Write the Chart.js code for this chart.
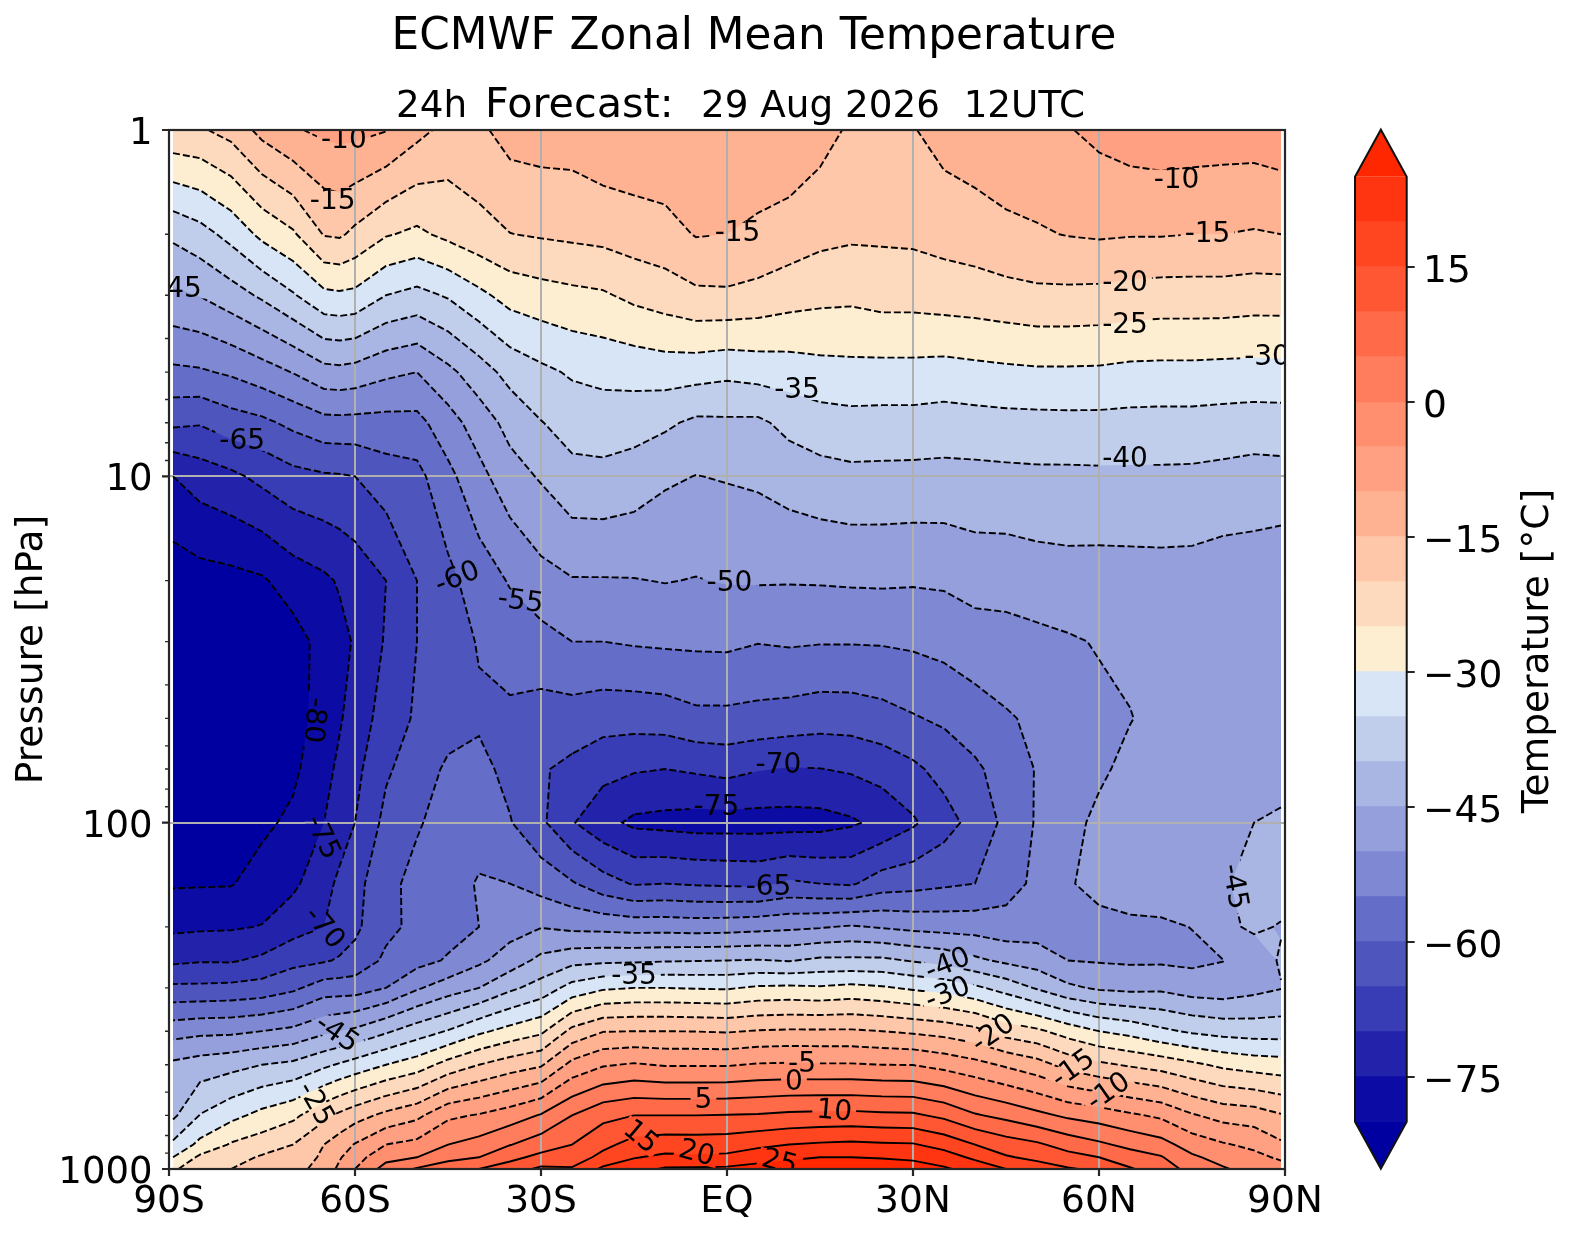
<!DOCTYPE html>
<html>
<head>
<meta charset="utf-8">
<script src="https://cdn.jsdelivr.net/npm/chart.js@4"></script>
<style>
  body { margin: 0; background: #fff; }
  canvas { position: absolute; top: 0; }
</style>
</head>
<body>
<canvas id="zonal" width="1572" height="1235" style="left:0"></canvas>
<canvas id="bar" width="272" height="1235" style="left:1300px"></canvas>
<script>
// grid, pressure levels in hPa
const pressures = [1,2,3,5,7,10,20,30,50,70,100,150,200,250,300,400,500,700,850,925,1000];
const lats = [-89.35,-85,-80,-75,-70,-65,-62.5,-60,-55,-50,-45,-40,-35,-30,-25,-20,-15,-10,-5,0,5,10,15,20,25,30,35,40,45,50,55,60,65,70,75,80,85,89.35];

// temperature per latitude, one value for each pressure level
const tS89 = [-21,-39,-46,-56,-64,-75,-83,-84,-85,-85,-84,-80.5,-76,-71,-64,-52,-44,-41,-34,-30,-26];
const tS85 = [-20.6,-36.9,-44.8,-55.6,-64.6,-72.7,-82,-84,-85,-85,-84,-80.4,-75.7,-70.4,-64,-51.2,-42.7,-34.8,-28.7,-24,-21];
const tS80 = [-18.3,-33.4,-42.2,-54.3,-62.3,-71.1,-81.5,-83,-84,-84,-83,-80.3,-75.5,-70.5,-63.7,-51,-41.6,-31.5,-24.5,-22,-20];
const tS75 = [-13.5,-28.8,-39.2,-52.2,-61.1,-68.7,-80.6,-83,-84,-84,-81,-78,-74.8,-69,-63,-50,-40,-28.5,-22.5,-19.4,-18];
const tS70 = [-10.5,-25.7,-35.5,-49.8,-58.8,-66.5,-77.7,-82,-82,-81,-79,-76,-72,-66.5,-61,-48.8,-38.9,-26.2,-20,-18.5,-17];
const tS65 = [-9,-19.7,-31.2,-46.7,-56.6,-65.6,-75.9,-78.3,-78,-76.6,-75,-71.7,-70,-65.5,-57.5,-46,-36,-21.3,-15,-14,-12.8];
const tS62 = [-8.5,-19.3,-30.8,-46.4,-56.5,-65.4,-74.5,-76.5,-75.5,-74,-72.5,-69,-68,-64.5,-57.4,-45,-34.5,-19,-12.5,-10.5,-9];
const tS60 = [-8.6,-21.1,-31.2,-46.9,-56.6,-65,-73,-74.5,-73,-71.4,-70,-66.7,-66,-63.4,-57.3,-44,-33,-17,-9.7,-7,-5];
const tS55 = [-9.8,-24.6,-35,-48.9,-56.7,-62.4,-70,-69.5,-67.7,-65.7,-63.6,-61.4,-61.3,-59,-55,-40.7,-30,-13.7,-5,-1.6,2];
const tS50 = [-13.5,-26,-36.5,-50,-56.5,-61.5,-65,-65,-64.3,-62.5,-60.5,-58.5,-58.7,-56.7,-50.6,-37.5,-27.5,-11.2,-3.6,0,5.5];
const tS45 = [-16.5,-23.8,-34.5,-46.2,-52.1,-56.3,-61.3,-62.6,-62,-59.2,-58,-56.5,-56.9,-54.5,-47.4,-34.7,-23.2,-6,0,3.6,7.7];
const tS40 = [-16,-21.7,-31.2,-42.3,-47.6,-51.5,-57.5,-59.6,-60.8,-58.5,-56.5,-54.7,-55,-51,-45,-31,-20,-4.6,1.8,5,10];
const tS35 = [-13,-20.1,-28.1,-38.3,-43.4,-47,-54.6,-57.7,-61,-61.5,-59.7,-55,-52,-47.6,-41,-28.3,-17.5,-2.5,4.8,8.6,12.5];
const tS30 = [-12.5,-19.5,-27,-36.1,-40.2,-44.5,-51.7,-56.8,-62,-64.5,-64,-57,-50.2,-43.7,-38,-26,-15.6,0.4,7.6,11.4,16];
const tS25 = [-12.5,-19,-26.2,-34.4,-38,-41.5,-50.3,-55,-62.2,-66.2,-69.6,-59.5,-51.2,-41.5,-33.2,-18.6,-8.5,5,10,12.4,15.5];
const tS20 = [-11,-18.5,-25.6,-33.6,-37.6,-41.3,-50.3,-55,-63,-68.4,-73.4,-63,-51.5,-41,-30.7,-15.2,-5.5,8.6,13.7,16.4,21];
const tS15 = [-10.8,-17.5,-23.8,-33.2,-38,-42.3,-50.2,-54.5,-63,-69.5,-76,-65.4,-52,-40.8,-30,-15,-4.5,10,16.8,19.7,23];
const tS10 = [-10.5,-16.8,-22.5,-32.7,-39.1,-44.25,-49.8,-54.2,-62.6,-70,-76.5,-65,-52,-40.4,-30,-15,-5.4,10,17.6,21,25.6];
const tS05 = [-10.5,-14.7,-21,-33,-41,-45.1,-50.2,-54.1,-61.2,-69.3,-77,-65.5,-52.3,-40.2,-30.3,-15.1,-5.4,10,17.5,20.8,25.7];
const tEQ = [-11,-15,-20.8,-33.8,-40.8,-44.66,-49.7,-54,-61.2,-68.5,-77,-65.8,-52.1,-40,-30.5,-15.4,-5.4,10.2,17.7,21,26];
const tN05 = [-11.5,-15.9,-21.6,-33.1,-40.9,-44.16,-49.6,-54.8,-61.6,-69.7,-77,-66,-51.6,-39.7,-29.3,-14.7,-4.6,10.4,18.9,22.8,27];
const tN10 = [-11,-17.2,-22.8,-32.6,-38.6,-42.8,-49.7,-54.4,-62.1,-70.3,-77,-64.2,-51,-40.3,-29,-14.4,-4.4,11,20,24,28];
const tN15 = [-13,-18.6,-23.6,-31.8,-37.2,-41.8,-49.6,-54.7,-62.8,-70.1,-76.8,-65,-50.4,-39,-29.4,-14.4,-4.6,11.3,20.6,25,29];
const tN20 = [-15.8,-19.2,-23.9,-31.5,-36.7,-41.2,-49.4,-54.7,-62.7,-69.4,-75.7,-65.6,-49.5,-39,-28.6,-14.4,-4.6,11.4,21,25,29];
const tN25 = [-15.8,-19.2,-23.1,-31.6,-36.8,-41.3,-49.3,-54.6,-61.8,-68,-73.7,-62.5,-50.4,-39,-29.4,-15,-5,11,20.6,24.6,28.3];
const tN30 = [-15.3,-19,-23.1,-31.6,-36.8,-41.4,-49.5,-54.2,-60.4,-66,-70.7,-61.8,-51.3,-40.4,-30.7,-15.8,-5.1,10.8,20.4,24,27.5];
const tN35 = [-13,-18.2,-22.6,-31.9,-37.2,-41.5,-49.3,-53.4,-59.2,-63.3,-67,-60.8,-51.8,-41.6,-31.9,-16.8,-6.6,8.9,18.2,22.3,25.7];
const tN40 = [-12,-17.4,-22.3,-31.4,-36.9,-41.4,-48.1,-52.3,-57.2,-60.9,-63.2,-60,-52,-44,-34,-18.5,-8.4,5.5,15,19,23];
const tN45 = [-11.5,-16.1,-21.7,-31,-36.6,-41.2,-48.1,-51.8,-55.5,-57.7,-58.8,-57,-53,-46,-37,-22.2,-10.7,3.6,12.4,15.5,20];
const tN50 = [-11,-15.5,-21.1,-30.7,-36.5,-41,-47.4,-51.2,-54.1,-54.7,-54.5,-53.9,-52.5,-47.3,-40.5,-24,-13,1.3,10.8,13.8,17.5];
const tN55 = [-10.3,-14.8,-21.1,-30.7,-36.4,-41,-47,-50.5,-52.8,-52.3,-51.7,-50.3,-52.5,-50,-44,-27.2,-16.8,-0.9,8,11.7,15.5];
const tN60 = [-8.8,-14.4,-21.3,-30.8,-36.4,-40.9,-47.1,-49.7,-51,-50.9,-48.8,-49,-51,-50.4,-45.7,-30,-19,-2.3,5.9,10,14];
const tN65 = [-7.5,-14.7,-21.8,-31.3,-36.6,-40.9,-47,-48.8,-50.2,-48.6,-48.5,-48,-50.8,-50.7,-46.3,-31.6,-20.6,-4.2,3.7,7.2,10.5];
const tN70 = [-7,-14.7,-22.2,-31.4,-36.7,-40.9,-46.9,-47.7,-48.5,-48,-47.8,-47.2,-50.8,-50.7,-46,-34,-22,-5.9,1.8,5.4,7.3];
const tN75 = [-7.2,-15,-22.2,-31.4,-36.7,-41,-47,-47.4,-47.5,-47.2,-47,-46.3,-49.9,-51,-47.5,-35.7,-24,-9.5,-2.2,0.8,3.5];
const tN80 = [-7.5,-15,-22.2,-31.6,-37,-41.4,-47.7,-47.2,-47.2,-46.8,-46,-45.5,-46,-50.1,-47.9,-36.8,-26,-11.8,-4.5,-1.7,0.5];
const tN85 = [-7.5,-15.4,-22.6,-31.7,-37.3,-41.9,-47.8,-46.9,-46.7,-46.2,-45,-43.5,-44.3,-47.5,-46.5,-37.3,-27.2,-12.5,-6.2,-3.6,-1.8];
const tN89 = [-6.8,-15,-22.6,-31.6,-37.2,-41.7,-48.7,-46.5,-46.5,-46,-44.6,-43,-45.3,-44.5,-45.2,-37.3,-27.8,-14.6,-9.2,-5.8,-3];
const columns = [tS89,tS85,tS80,tS75,tS70,tS65,tS62,tS60,tS55,tS50,tS45,tS40,tS35,tS30,tS25,tS20,tS15,tS10,tS05,tEQ,tN05,tN10,tN15,tN20,tN25,tN30,tN35,tN40,tN45,tN50,tN55,tN60,tN65,tN70,tN75,tN80,tN85,tN89];

// contour levels and the colour of the band above each one
const levels = [-80,-75,-70,-65,-60,-55,-50,-45,-40,-35,-30,-25,-20,-15,-10,-5,0,5,10,15,20,25];
const bandColors = ["#0c0ca4","#2222ab","#383db5","#4e55bd","#646ec8","#7f88d2","#949fdc","#a9b5e3","#c0ceeb","#d8e5f6","#fdeed2","#fddabd","#ffc7a9","#ffb292","#ffa083","#ff8f6f","#ff7c5d","#ff6a48","#ff5733","#ff4620","#ff3410","#ff2700"];
const underColor = "#0000a0";

const latTicks = [-90,-60,-30,0,30,60,90];
const latTickLabels = ["90S","60S","30S","EQ","30N","60N","90N"];
const pressureLabels = [1,10,100,1000];
const minorPressures = [2,3,4,5,6,7,8,9,20,30,40,50,60,70,80,90,200,300,400,500,600,700,800,900];
const colorbarTicks = [-75,-60,-45,-30,-15,0,15];

// inline contour labels
const labelText = ["-10","-15","-45","-30","-65","-35","-15","-10","-15","-20","-25","-40","-60","-55","-50","-80","-70","-75","-75","-70","-65","-45","-35","-40","-30","-45","-20","-25","-5","0","5","10","-15","-10","15","20","25"];
const labelLat = [-61.8,-63.6,-88.4,87.1,-78.2,11.3,1.7,72.5,77.5,64.2,64.2,64.2,-43.5,-33.3,0.4,-66.5,8.3,-1.7,-65.2,-64.9,6.7,81.9,-15,35.6,35.6,-62.9,42.9,-66.3,12.1,10.8,-3.8,17.3,55.8,61.5,-13.9,-4.9,8.5];
const labelHpa = [1.07,1.6,2.87,4.52,7.9,5.63,1.98,1.39,1.99,2.76,3.65,8.87,19.6,22.9,20.3,50.6,67.9,89.9,110,201,153,153,276,256,311,406,406,648,496,560,631,679,513,598,807,899,955];
const labelAngle = [0,0,0,0,0,0,0,0,0,0,0,0,-22,8,0,95,0,0,65,50,0,80,0,-22,-22,35,-35,60,0,0,0,5,-35,-35,40,15,15];

Chart.defaults.font.family = "'DejaVu Sans'";
Chart.defaults.color = "#000";
Chart.defaults.animation = false;

const tickFont = "37.6px 'DejaVu Sans'";

// marching squares, chained into polylines so the dash pattern runs on
function contourLines(level) {
  const nx = lats.length, ny = pressures.length;
  const logp = pressures.map(p => Math.log10(p));
  const crossing = (i0, j0, i1, j1) => {
    const a = columns[i0][j0], b = columns[i1][j1];
    const t = (level - a) / (b - a);
    return { x: lats[i0] + t * (lats[i1] - lats[i0]), y: Math.pow(10, logp[j0] + t * (logp[j1] - logp[j0])) };
  };
  const points = {}, links = {};
  const link = (a, b) => { (links[a] = links[a] || []).push(b); (links[b] = links[b] || []).push(a); };
  for (let i = 0; i < nx - 1; i++) {
    for (let j = 0; j < ny - 1; j++) {
      const v = [columns[i][j], columns[i + 1][j], columns[i + 1][j + 1], columns[i][j + 1]];
      const edges = [[i, j, i + 1, j], [i + 1, j, i + 1, j + 1], [i, j + 1, i + 1, j + 1], [i, j, i, j + 1]];
      const corner = [[0, 1], [1, 2], [3, 2], [0, 3]];
      const hit = [];
      edges.forEach((e, k) => {
        const up = v[corner[k][0]] >= level, up2 = v[corner[k][1]] >= level;
        if (up !== up2) {
          const key = e.join("_");
          points[key] = crossing(e[0], e[1], e[2], e[3]);
          hit.push(key);
        }
      });
      if (hit.length === 2) link(hit[0], hit[1]);
      if (hit.length === 4) {
        const mid = (v[0] + v[1] + v[2] + v[3]) / 4;
        if ((mid >= level) === (v[0] >= level)) { link(hit[0], hit[1]); link(hit[2], hit[3]); }
        else { link(hit[0], hit[3]); link(hit[1], hit[2]); }
      }
    }
  }
  const seen = {}, out = [];
  const walk = start => {
    let cur = start, prev = null;
    while (cur && !seen[cur]) {
      seen[cur] = true;
      out.push(points[cur]);
      const next = links[cur].find(k => k !== prev && !seen[k]);
      prev = cur;
      cur = next;
    }
    // close the loop when the line came back to its start
    if (links[prev] && links[prev].includes(start) && links[start].length === 2 && out.length > 3 && prev !== start) out.push(points[start]);
    out.push({ x: NaN, y: NaN });
  };
  Object.keys(links).filter(k => links[k].length === 1).forEach(walk);
  Object.keys(links).filter(k => !seen[k]).forEach(walk);
  return out;
}

// clip a grid cell to value >= level, result in pixels
function clipCell(cell, level) {
  const out = [];
  cell.forEach((a, k) => {
    const b = cell[(k + 1) % cell.length];
    if (a.v >= level) out.push(a);
    if ((a.v >= level) !== (b.v >= level)) {
      const t = (level - a.v) / (b.v - a.v);
      out.push({ x: a.x + t * (b.x - a.x), y: a.y + t * (b.y - a.y), v: level });
    }
  });
  return out;
}

function paintBands(chart, ctx) {
  const xs = chart.scales.x, ys = chart.scales.y;
  const X = lats.map(v => xs.getPixelForValue(v));
  const Y = pressures.map(v => ys.getPixelForValue(v));
  ctx.fillStyle = underColor;
  ctx.fillRect(X[0], Y[0], X[X.length - 1] - X[0], Y[Y.length - 1] - Y[0]);
  levels.forEach((level, n) => {
    ctx.beginPath();
    for (let i = 0; i < X.length - 1; i++) {
      for (let j = 0; j < Y.length - 1; j++) {
        const poly = clipCell([
          { x: X[i], y: Y[j], v: columns[i][j] },
          { x: X[i + 1], y: Y[j], v: columns[i + 1][j] },
          { x: X[i + 1], y: Y[j + 1], v: columns[i + 1][j + 1] },
          { x: X[i], y: Y[j + 1], v: columns[i][j + 1] }
        ], level);
        poly.forEach((p, k) => k ? ctx.lineTo(p.x, p.y) : ctx.moveTo(p.x, p.y));
        if (poly.length) ctx.closePath();
      }
    }
    ctx.fillStyle = bandColors[n];
    ctx.fill();
  });
}

function paintGrid(chart, ctx) {
  const a = chart.chartArea;
  ctx.strokeStyle = "#b0b0b0";
  ctx.lineWidth = 2;
  ctx.beginPath();
  latTicks.forEach(v => { const x = chart.scales.x.getPixelForValue(v); ctx.moveTo(x, a.top); ctx.lineTo(x, a.bottom); });
  pressureLabels.forEach(v => { const y = chart.scales.y.getPixelForValue(v); ctx.moveTo(a.left, y); ctx.lineTo(a.right, y); });
  ctx.stroke();
}

// bands go on a spare canvas so the label gaps can be copied back cleanly
const layer = document.createElement("canvas");
layer.width = 1572;
layer.height = 1235;

const bandsPlugin = {
  id: "bands",
  beforeDraw(chart) {
    const lc = layer.getContext("2d");
    lc.clearRect(0, 0, layer.width, layer.height);
    paintBands(chart, lc);
    chart.ctx.drawImage(layer, 0, 0);
    paintGrid(chart, lc);
  },
  afterDatasetsDraw(chart) {
    const ctx = chart.ctx, a = chart.chartArea;
    const xs = chart.scales.x, ys = chart.scales.y;
    ctx.font = "28px 'DejaVu Sans'";
    labelText.forEach((text, n) => {
      const w = ctx.measureText(text).width + 8;
      const x = xs.getPixelForValue(labelLat[n]), y = ys.getPixelForValue(labelHpa[n]);
      const turn = labelAngle[n] * Math.PI / 180;
      ctx.save();
      ctx.beginPath();
      ctx.rect(a.left, a.top, a.right - a.left, a.bottom - a.top);
      ctx.clip();
      // open a gap in the contour under the label
      ctx.save();
      ctx.translate(x, y); ctx.rotate(turn);
      ctx.beginPath();
      ctx.rect(-w / 2, -10, w, 20);
      ctx.setTransform(1, 0, 0, 1, 0, 0);
      ctx.clip();
      ctx.drawImage(layer, 0, 0);
      ctx.restore();
      ctx.translate(x, y); ctx.rotate(turn);
      ctx.fillStyle = "#000";
      ctx.textAlign = "center";
      ctx.textBaseline = "middle";
      ctx.fillText(text, 0, 1);
      ctx.restore();
    });
  },
  afterDraw(chart) {
    const ctx = chart.ctx, a = chart.chartArea;
    const xs = chart.scales.x, ys = chart.scales.y;
    ctx.strokeStyle = "#262626";
    // frame and tick marks
    ctx.lineWidth = 2.2;
    ctx.strokeRect(a.left, a.top, a.right - a.left, a.bottom - a.top);
    ctx.beginPath();
    latTicks.forEach(v => { const x = xs.getPixelForValue(v); ctx.moveTo(x, a.bottom); ctx.lineTo(x, a.bottom + 7); });
    pressureLabels.forEach(v => { const y = ys.getPixelForValue(v); ctx.moveTo(a.left, y); ctx.lineTo(a.left - 7, y); });
    ctx.stroke();
    ctx.lineWidth = 1.4;
    ctx.beginPath();
    minorPressures.forEach(v => { const y = ys.getPixelForValue(v); ctx.moveTo(a.left, y); ctx.lineTo(a.left - 4, y); });
    ctx.stroke();
    // pressure tick labels
    ctx.fillStyle = "#000";
    ctx.textBaseline = "alphabetic";
    ctx.textAlign = "right";
    ctx.font = "37px 'DejaVu Sans'";
    pressureLabels.forEach(v => ctx.fillText(String(v), 152.5, ys.getPixelForValue(v) + 14));
    // titles
    ctx.textAlign = "center";
    ctx.font = "43.7px 'DejaVu Sans'";
    ctx.fillText("ECMWF Zonal Mean Temperature", 754, 49);
    ctx.textAlign = "left";
    ctx.font = "37.3px 'DejaVu Sans'";
    ctx.fillText("24h", 396, 117);
    ctx.fillText("29 Aug 2026  12UTC", 701, 117);
    ctx.font = "41.3px 'DejaVu Sans'";
    ctx.fillText("Forecast:", 485, 117);
  }
};

new Chart(document.getElementById("zonal"), {
  type: "scatter",
  data: {
    datasets: levels.map(level => ({
      label: String(level),
      data: contourLines(level),
      showLine: true,
      pointRadius: 0,
      borderColor: "#000",
      borderWidth: 1.9,
      borderDash: level < 0 ? [7, 3] : [],
      fill: false
    }))
  },
  options: {
    responsive: false,
    devicePixelRatio: 1,
    layout: { padding: { top: 130, right: 287, bottom: 0, left: 0 } },
    plugins: { legend: { display: false }, tooltip: { enabled: false } },
    scales: {
      x: {
        type: "linear",
        min: -90,
        max: 90,
        afterFit(s) { s.height = 66; },
        afterBuildTicks(s) { s.ticks = latTicks.map(v => ({ value: v })); },
        grid: { color: "#b0b0b0", lineWidth: 2, drawTicks: false },
        border: { display: false },
        ticks: {
          autoSkip: false,
          maxRotation: 0,
          padding: 11,
          font: { size: 37.6 },
          callback: v => latTickLabels[latTicks.indexOf(v)]
        }
      },
      y: {
        type: "logarithmic",
        reverse: true,
        min: 1,
        max: 1000,
        afterFit(s) { s.width = 169; },
        afterBuildTicks(s) { s.ticks = pressureLabels.map(v => ({ value: v })); },
        grid: { color: "#b0b0b0", lineWidth: 2, drawTicks: false },
        border: { display: false },
        title: { display: true, text: "Pressure [hPa]", font: { size: 37.6 }, padding: { top: 10, bottom: 0 } },
        ticks: { display: false }
      }
    }
  },
  plugins: [bandsPlugin]
});

// colour bar, one floating bar per band; the lower bars sit on top of the upper ones
const barOutline = {
  id: "barOutline",
  afterDatasetsDraw(chart) {
    const ctx = chart.ctx, a = chart.chartArea;
    const mid = (a.left + a.right) / 2, tip = 47;
    ctx.fillStyle = bandColors[bandColors.length - 1];
    ctx.beginPath(); ctx.moveTo(a.left, a.top); ctx.lineTo(mid, a.top - tip); ctx.lineTo(a.right, a.top); ctx.closePath(); ctx.fill();
    ctx.fillStyle = underColor;
    ctx.beginPath(); ctx.moveTo(a.left, a.bottom); ctx.lineTo(mid, a.bottom + tip); ctx.lineTo(a.right, a.bottom); ctx.closePath(); ctx.fill();
    ctx.strokeStyle = "#111";
    ctx.lineWidth = 2;
    ctx.beginPath();
    ctx.moveTo(a.left, a.top); ctx.lineTo(mid, a.top - tip); ctx.lineTo(a.right, a.top);
    ctx.lineTo(a.right, a.bottom); ctx.lineTo(mid, a.bottom + tip); ctx.lineTo(a.left, a.bottom);
    ctx.closePath();
    ctx.stroke();
    ctx.fillStyle = "#000";
    ctx.font = tickFont;
    ctx.textAlign = "left";
    ctx.textBaseline = "alphabetic";
    colorbarTicks.forEach(v => ctx.fillText(String(v).replace("-", "\u2212"), 123, chart.scales.y.getPixelForValue(v) + 15));
    ctx.save();
    ctx.translate(238, 651);
    ctx.rotate(-Math.PI / 2);
    ctx.textAlign = "center";
    ctx.textBaseline = "middle";
    ctx.fillText("Temperature [°C]", 0, 0);
    ctx.restore();
  }
};

new Chart(document.getElementById("bar"), {
  type: "bar",
  data: {
    labels: ["T"],
    datasets: levels.slice(0, -1).map((level, n) => ({
      data: [[levels[0], levels[n + 1]]],
      backgroundColor: bandColors[n],
      borderWidth: 0,
      barPercentage: 1,
      categoryPercentage: 1
    }))
  },
  options: {
    responsive: false,
    devicePixelRatio: 1,
    layout: { padding: { top: 176.7, right: 0, bottom: 113.3, left: 55 } },
    plugins: { legend: { display: false }, tooltip: { enabled: false } },
    scales: {
      x: { stacked: true, display: false },
      y: {
        position: "right",
        min: -80,
        max: 25,
        afterFit(s) { s.width = 165.3; },
        afterBuildTicks(s) { s.ticks = colorbarTicks.map(v => ({ value: v })); },
        grid: { drawOnChartArea: false, color: "#262626", tickLength: 8, lineWidth: 2 },
        border: { display: false },
        ticks: { display: false }
      }
    }
  },
  plugins: [barOutline]
});
</script>
</body>
</html>
